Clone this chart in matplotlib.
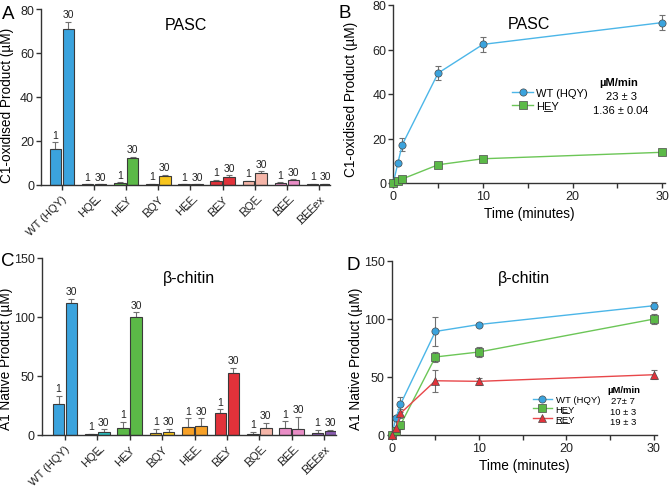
import numpy as np
import matplotlib
matplotlib.use("Agg")
import matplotlib.pyplot as plt
from matplotlib.lines import Line2D
from matplotlib.transforms import IdentityTransform

plt.rcParams['font.family'] = ['Liberation Sans', 'DejaVu Sans']

# ---------------- data ----------------
categories = ['WT (HQY)', 'HQE', 'HEY', 'RQY', 'HEF', 'REY', 'RQF', 'REF', 'REFex']
underlined = [[], [2], [1], [0], [1, 2], [0, 1], [0, 2], [0, 1, 2], [0, 1, 2]]
cat_colors = ['#3ba3dd', '#2bbcbc', '#5bb947', '#f8c51c', '#f7a128',
              '#e2323a', '#f5b5a8', '#e98dc6', '#8a5cb0']

pasc_1 = [16.3, 0.1, 0.9, 0.3, 0.1, 1.8, 1.5, 0.9, 0.2]
pasc_1_err = [3.0, 0.0, 0.2, 0.1, 0.0, 0.3, 0.4, 0.2, 0.1]
pasc_30 = [71.0, 0.1, 12.3, 4.1, 0.1, 3.6, 5.2, 2.0, 0.3]
pasc_30_err = [3.2, 0.0, 0.5, 0.3, 0.0, 0.6, 0.9, 0.4, 0.1]

chitin_1 = [25.8, 0.5, 5.4, 1.7, 6.5, 18.1, 0.9, 5.9, 1.1]
chitin_1_err = [7.0, 0.5, 5.6, 3.0, 7.4, 3.4, 1.6, 5.4, 3.0]
chitin_30 = [111.5, 2.5, 100.2, 2.5, 7.6, 52.0, 5.7, 4.8, 3.1]
chitin_30_err = [3.5, 2.0, 3.7, 2.3, 6.3, 4.5, 4.0, 10.5, 1.0]

time_min = [0, 0.5, 1, 5, 10, 30]
b_wt = [0, 8.8, 17.2, 49.4, 62.3, 72.1]
b_wt_err = [0.5, 0.8, 3.0, 3.0, 3.5, 3.4]
b_hey = [0, 1.0, 1.8, 8.2, 10.9, 13.8]
b_hey_err = [0.3, 0.3, 0.3, 0.6, 0.6, 0.6]
b_rates = ['23 ± 3', '1.36 ± 0.04']

d_wt = [0, 14.7, 26.1, 89.0, 95.0, 111.2]
d_wt_err = [0.5, 1.5, 6.6, 12.6, 1.5, 3.0]
d_hey = [0, 3.2, 8.3, 67.0, 71.3, 99.7]
d_hey_err = [0.5, 1.0, 3.0, 4.0, 4.6, 4.0]
d_rey = [0, 5.5, 18.4, 46.5, 46.0, 51.7]
d_rey_err = [0.5, 1.0, 4.0, 9.5, 3.0, 4.0]
d_rates = ['27± 7', '10 ± 3', '19 ± 3']

timepoint_labels = ['1', '30']

W, H = 669, 489
fig = plt.figure(figsize=(W / 100, H / 100), dpi=100)

def px_axes(l, t, r, b):
    return fig.add_axes([l / W, 1 - b / H, (r - l) / W, (b - t) / H])

SPINE = '#333333'
ERR = '#707070'

def style(ax):
    for s in ['top', 'right']:
        ax.spines[s].set_visible(False)
    for s in ['left', 'bottom']:
        ax.spines[s].set_color(SPINE)
        ax.spines[s].set_linewidth(1.0)
    ax.tick_params(direction='out', length=3.5, width=1.0, color=SPINE,
                   labelsize=9, labelcolor='#222222', pad=1.5)

def bar_panel(ax, v1, e1, v30, e30, ylim, yticks, title, ylabel, xlim, ty):
    style(ax)
    x = np.arange(len(categories))
    w = 0.36
    off = 0.2
    ax.bar(x - off, v1, w, color=cat_colors, edgecolor='#3a3a3a', linewidth=0.8, zorder=2)
    ax.bar(x + off, v30, w, color=cat_colors, edgecolor='#3a3a3a', linewidth=0.8, zorder=2)
    ax.errorbar(x - off, v1, yerr=[np.zeros(len(x)), e1], fmt='none', ecolor=ERR,
                elinewidth=0.8, capsize=2.5, capthick=0.8, zorder=1, clip_on=False)
    ax.errorbar(x + off, v30, yerr=[np.zeros(len(x)), e30], fmt='none', ecolor=ERR,
                elinewidth=0.8, capsize=2.5, capthick=0.8, zorder=1, clip_on=False)
    for xi, v, e in zip(x - off, v1, e1):
        ax.annotate(timepoint_labels[0], (xi, v + e), xytext=(0, 2), textcoords='offset points',
                    ha='center', va='bottom', fontsize=7.5, color='#222222', annotation_clip=False)
    for xi, v, e in zip(x + off, v30, e30):
        ax.annotate(timepoint_labels[1], (xi, v + e), xytext=(0, 2), textcoords='offset points',
                    ha='center', va='bottom', fontsize=7.5, color='#222222', annotation_clip=False)
    ax.set_ylim(*ylim)
    ax.set_yticks(yticks)
    ax.set_xlim(*xlim)
    ax.set_xticks(x)
    ax.set_xticklabels(categories, rotation=45, ha='right', va='top',
                       rotation_mode='anchor', fontsize=8)
    ax.tick_params(axis='x', pad=3)
    ax.set_title(title, fontsize=11.5, pad=0, y=ty)
    ax.set_ylabel(ylabel, fontsize=9.8)

# Panel A
axA = px_axes(41, 10, 330, 185.7)
bar_panel(axA, pasc_1, pasc_1_err, pasc_30, pasc_30_err, (0, 80), [0, 20, 40, 60, 80],
          'PASC', 'C1-oxidised Product (µM)', (-0.65, 8.34), 0.885)
axA.yaxis.set_label_coords(-0.095, 0.46)

# Panel C
axC = px_axes(41.7, 259, 336, 435.7)
bar_panel(axC, chitin_1, chitin_1_err, chitin_30, chitin_30_err, (0, 150), [0, 50, 100, 150],
          'β-chitin', 'A1 Native Product (µM)', (-0.72, 8.37), 0.866)
axC.yaxis.set_label_coords(-0.097, 0.434)

# line panels
def line_panel(ax, series, ylim, yticks, title, ylabel, ty):
    style(ax)
    handles = []
    for vals, errs, lc, mc, mk, lab in series:
        ax.errorbar(time_min, vals, yerr=errs, fmt='none', ecolor=ERR, elinewidth=0.8,
                    capsize=2.5, capthick=0.8, zorder=2, clip_on=False)
        h, = ax.plot(time_min, vals, color=lc, lw=1.0, marker=mk, ms=5.2, mfc=mc,
                     mec='#4a4a4a', mew=0.5, zorder=3, clip_on=False, label=lab)
        handles.append(h)
    ax.set_xlim(0, 30.3)
    ax.set_xticks([0, 10, 20, 30])
    ax.set_xticks([5, 15, 25], minor=True)
    ax.tick_params(axis='x', which='minor', direction='out', length=3.5, width=1.0, color=SPINE)
    ax.set_ylim(*ylim)
    ax.set_yticks(yticks)
    ax.set_title(title, fontsize=11.5, pad=0, y=ty)
    ax.set_ylabel(ylabel, fontsize=9.8)
    ax.set_xlabel('Time (minutes)', fontsize=9.8, labelpad=3)
    return handles

# Panel B
axB = px_axes(393.3, 6, 665, 184)
hB = line_panel(axB, [
    (b_wt, b_wt_err, '#4cb6e8', '#3ba3dd', 'o', 'WT (HQY)'),
    (b_hey, b_hey_err, '#6cc657', '#5bb947', 's', 'HEY'),
], (0, 80), [0, 20, 40, 60, 80], 'PASC', 'C1-oxidised Product (µM)', 0.87)
axB.yaxis.set_label_coords(-0.13, 0.478)
legB = fig.legend(handles=hB, loc='upper left', bbox_to_anchor=(512 / W, 1 - 89 / H),
                  frameon=False, fontsize=8, handlelength=1.9, handletextpad=0.3,
                  labelspacing=0.3, borderpad=0, borderaxespad=0)
fig.text(619 / W, 1 - 83 / H, 'µM/min', fontsize=8, fontweight='bold', ha='center', va='center')
for r, yy in zip(b_rates, [96.7, 111]):
    fig.text(621 / W, 1 - yy / H, r, fontsize=8, ha='center', va='center')

# Panel D
axD = px_axes(391.7, 261.7, 656.5, 435.7)
hD = line_panel(axD, [
    (d_wt, d_wt_err, '#4cb6e8', '#3ba3dd', 'o', 'WT (HQY)'),
    (d_hey, d_hey_err, '#6cc657', '#5bb947', 's', 'HEY'),
    (d_rey, d_rey_err, '#e8474a', '#e2323a', '^', 'REY'),
], (0, 150), [0, 50, 100, 150], 'β-chitin', 'A1 Native Product (µM)', 0.878)
axD.yaxis.set_label_coords(-0.108, 0.44)
legD = fig.legend(handles=hD, loc='upper left', bbox_to_anchor=(533 / W, 1 - 396 / H),
                  frameon=False, fontsize=6.8, handlelength=2.0, handletextpad=0.4,
                  labelspacing=0.08, borderpad=0, borderaxespad=0)
fig.text(624 / W, 1 - 390.7 / H, 'µM/min', fontsize=6.8, fontweight='bold', ha='center', va='center')
for r, yy in zip(d_rates, [401.7, 412.5, 422.7]):
    fig.text(623 / W, 1 - yy / H, r, fontsize=6.8, ha='center', va='center')

# panel letters
for lab, lx, ly in [('A', 2, 6), ('B', 338, 5), ('C', 1, 253), ('D', 347, 257)]:
    fig.text(lx / W, 1 - ly / H, lab, fontsize=13.5, ha='left', va='top')

# ---------------- underlines for mutated residues ----------------
fig.canvas.draw()
renderer = fig.canvas.get_renderer()

def runs(idx):
    idx = sorted(idx)
    out = []
    for i in idx:
        if out and out[-1][1] == i:
            out[-1][1] = i + 1
        else:
            out.append([i, i + 1])
    return out

def text_w(s, prop):
    if not s:
        return 0.0
    return renderer.get_text_width_height_descent(s, prop, ismath=False)[0]

def underline(t, idx):
    if not idx:
        return
    s = t.get_text()
    prop = t.get_fontproperties()
    Wt, Ht, Dt = renderer.get_text_width_height_descent(s, prop, ismath=False)
    _, lh, ld = renderer.get_text_width_height_descent('lp', prop, ismath=False)
    h = max(Ht, lh)
    d = max(Dt, ld)
    size_px = prop.get_size_in_points() * fig.dpi / 72
    gap = 0.11 * size_px
    ang = np.deg2rad(t.get_rotation())
    if t.get_rotation() == 0:
        bb = t.get_window_extent(renderer)
        left = bb.x0
        base = bb.y0 + d - gap
        for a, b in runs(idx):
            x0 = left + text_w(s[:a], prop)
            x1 = left + text_w(s[:b], prop)
            fig.add_artist(Line2D([x0, x1], [base, base], transform=IdentityTransform(),
                                  color=t.get_color(), lw=0.6))
    else:
        ax_, ay_ = t.get_transform().transform(t.get_position())
        v = -(h - d) - gap
        c, sn = np.cos(ang), np.sin(ang)
        for a, b in runs(idx):
            u0 = -Wt + text_w(s[:a], prop)
            u1 = -Wt + text_w(s[:b], prop)
            xs = [ax_ + u0 * c - v * sn, ax_ + u1 * c - v * sn]
            ys = [ay_ + u0 * sn + v * c, ay_ + u1 * sn + v * c]
            fig.add_artist(Line2D(xs, ys, transform=IdentityTransform(),
                                  color=t.get_color(), lw=0.6))

for ax in (axA, axC):
    for t, idx in zip(ax.get_xticklabels(), underlined):
        underline(t, idx)

legend_ul = {'HEY': [1], 'REY': [0, 1]}
for leg in (legB, legD):
    for t in leg.get_texts():
        underline(t, legend_ul.get(t.get_text(), []))

fig.savefig('out.png', dpi=100)
